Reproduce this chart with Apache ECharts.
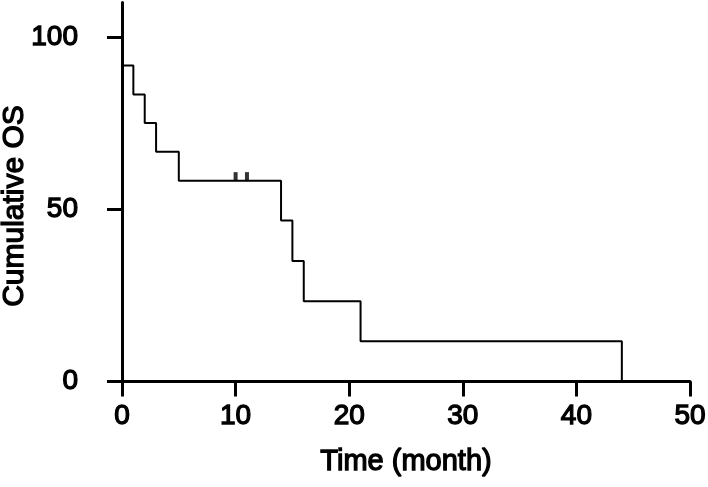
<!DOCTYPE html>
<html>
<head>
<meta charset="utf-8">
<script src="https://cdn.jsdelivr.net/npm/echarts@6/dist/echarts.min.js"></script>
<style>html,body{margin:0;padding:0;background:#fff}#c{width:708px;height:487px}</style>
</head>
<body>
<div id="c"></div>
<script>
// Kaplan-Meier step points: time (month) and cumulative OS (%) after each event
const eventTimes = [0, 0, 1, 2, 3, 5, 14, 15, 16, 21, 44];
const survival   = [100, 91.7, 83.3, 75.0, 66.7, 58.3, 46.7, 35.0, 23.3, 11.7, 0];
// censored observations
const censorTimes = [10, 11];
const censorSurv  = [58.3, 58.3];
// axis ticks
const xTicks = [0, 10, 20, 30, 40, 50];
const yTicks = [0, 50, 100];

const font = 'Liberation Sans, Arial, Helvetica, sans-serif';
function txt(size) {
  return {fontFamily: font, fontSize: size, fontWeight: 'normal', color: '#000',
          textBorderColor: '#000', textBorderWidth: 1.3};
}
const chart = echarts.init(document.getElementById('c'), null, {renderer: 'canvas'});
chart.setOption({
  animation: false,
  backgroundColor: '#fff',
  grid: {left: 122, right: 18, top: 2.5, bottom: 105.5, containLabel: false, outerBoundsMode: 'none'},
  xAxis: {
    type: 'value', min: xTicks[0], max: xTicks[xTicks.length - 1], interval: 10,
    name: 'Time (month)', nameLocation: 'middle', nameGap: 66,
    nameTextStyle: txt(29),
    axisLine: {show: true, lineStyle: {color: '#000', width: 3}},
    axisTick: {show: true, length: 15, lineStyle: {color: '#000', width: 3}},
    axisLabel: Object.assign({margin: 21}, txt(28)),
    splitLine: {show: false}
  },
  yAxis: {
    type: 'value', min: 0, max: 110,
    name: 'Cumulative OS', nameLocation: 'middle', nameGap: 92, nameMoveOverlap: false,
    nameTextStyle: Object.assign({padding: [0, 28, 0, 0]}, txt(30)),
    axisLine: {show: true, lineStyle: {color: '#000', width: 3}},
    axisTick: {show: true, length: 15, customValues: yTicks, lineStyle: {color: '#000', width: 3}},
    axisLabel: Object.assign({margin: 44, customValues: yTicks}, txt(28)),
    splitLine: {show: false}
  },
  series: [
    {
      type: 'line', step: 'end', showSymbol: false, silent: true,
      data: eventTimes.map((t, i) => [t, survival[i]]),
      lineStyle: {color: '#000', width: 2},
      z: 1
    },
    {
      type: 'scatter', symbol: 'rect', symbolSize: [4, 9], symbolOffset: [0, -4],
      data: censorTimes.map((t, i) => [t, censorSurv[i]]),
      itemStyle: {color: '#000'},
      silent: true, z: 2
    }
  ]
});
</script>
</body>
</html>
